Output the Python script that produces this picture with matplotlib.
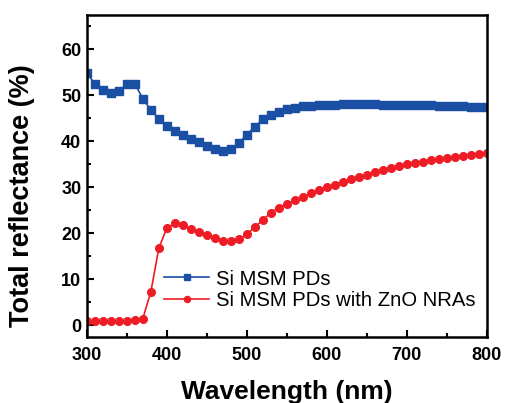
import numpy as np
import matplotlib
matplotlib.use("Agg")
import matplotlib.pyplot as plt
from matplotlib.ticker import MultipleLocator

wavelength = list(range(300, 801, 10))

si_msm = [54.9, 52.5, 51.1, 50.6, 50.9, 52.5, 52.5, 49.3, 46.8, 44.9,
          43.4, 42.2, 41.4, 40.6, 39.8, 39.1, 38.4, 38.0, 38.4, 39.6,
          41.5, 43.2, 44.8, 45.8, 46.5, 47.0,
          47.3, 47.6, 47.8, 47.9, 48.0, 48.0, 48.1, 48.1, 48.1, 48.1,
          48.1, 48.0, 48.0, 48.0, 48.0, 47.9, 47.9, 47.9, 47.8, 47.8,
          47.7, 47.6, 47.5, 47.5, 47.4]

si_zno = [0.9, 1.0, 1.0, 1.0, 1.0, 1.0, 1.1, 1.5, 7.3, 16.8,
          21.2, 22.2, 21.8, 21.0, 20.3, 19.6, 18.9, 18.4, 18.3, 18.7,
          19.8, 21.4, 22.9, 24.5, 25.6, 26.4,
          27.2, 28.0, 28.7, 29.4, 30.0, 30.6, 31.2, 31.8, 32.3, 32.8,
          33.3, 33.8, 34.2, 34.6, 35.0, 35.3, 35.6, 35.9, 36.2, 36.4,
          36.7, 36.9, 37.1, 37.3, 37.5]

labels = ["Si MSM PDs", "Si MSM PDs with ZnO NRAs"]

plt.rcParams['font.family'] = ['Liberation Sans', 'DejaVu Sans']

fig = plt.figure(figsize=(5.05, 4.03), dpi=100)
ax = fig.add_axes([0.172, 0.164, 0.792, 0.799])

blue = "#1b4fa3"
red = "#ee1c24"
ax.plot(wavelength, si_msm, color=blue, marker='s', markersize=5.5, lw=1.2, label=labels[0])
ax.plot(wavelength, si_zno, color=red, marker='o', markersize=5.5, lw=1.2, label=labels[1])

ax.set_xlim(300, 800)
ax.set_ylim(-2.5, 67.5)
ax.xaxis.set_major_locator(MultipleLocator(100))
ax.xaxis.set_minor_locator(MultipleLocator(50))
ax.yaxis.set_major_locator(MultipleLocator(10))
ax.yaxis.set_minor_locator(MultipleLocator(5))
ax.tick_params(which='both', direction='in', top=False, right=False, width=1.5)
ax.tick_params(which='major', length=5, labelsize=13)
ax.tick_params(axis='x', which='major', pad=7)
ax.tick_params(axis='y', which='major', pad=4)
ax.tick_params(which='minor', length=3)
for lab in ax.get_xticklabels() + ax.get_yticklabels():
    lab.set_fontweight('bold')
for s in ax.spines.values():
    s.set_linewidth(1.8)

ax.set_xlabel("Wavelength (nm)", fontsize=19, fontweight='bold', labelpad=12)
ax.set_ylabel("Total reflectance (%)", fontsize=19.5, fontweight='bold')
ax.yaxis.set_label_coords(-0.13, 0.438)

leg = ax.legend(loc='lower left', bbox_to_anchor=(0.148, 0.027), frameon=False,
                fontsize=14.6, handlelength=2.2, handletextpad=0.35, labelspacing=0.12,
                markerscale=0.8)

fig.savefig("out.png", dpi=100)
